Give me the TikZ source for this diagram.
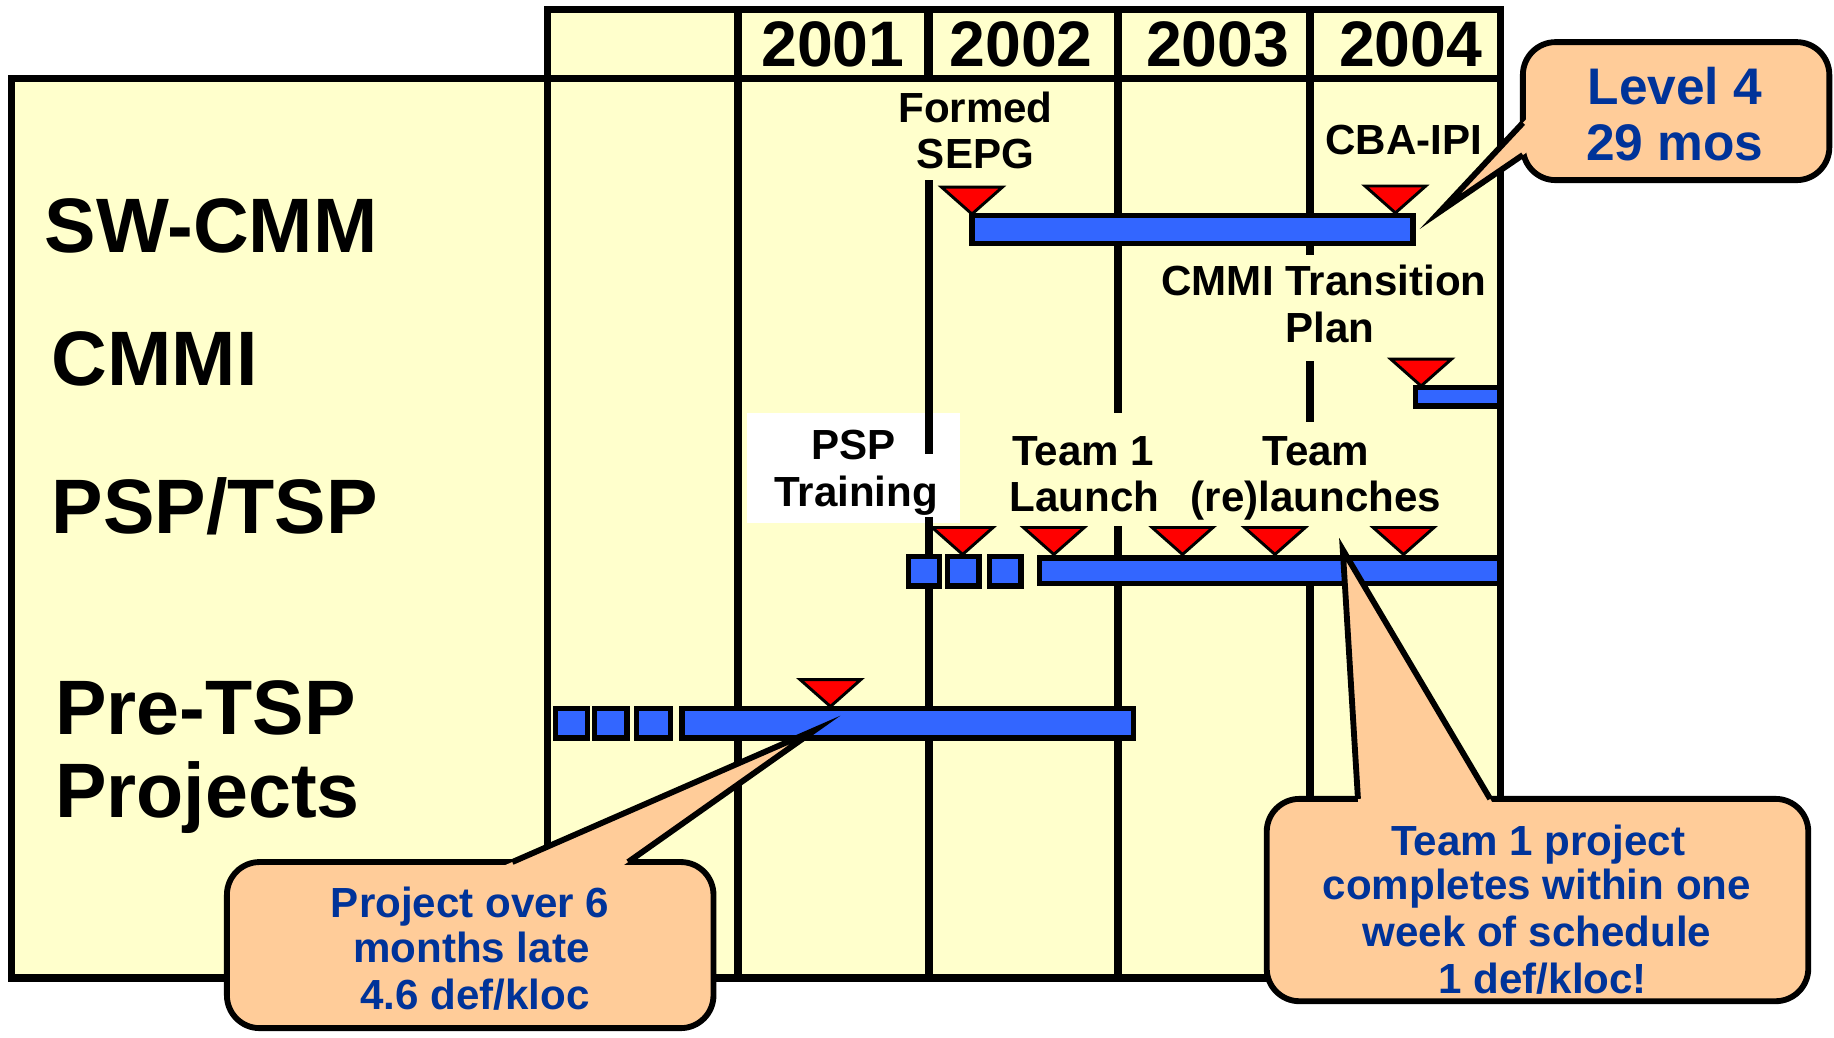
\documentclass[tikz,border=0pt]{standalone}
\usepackage{fontspec}
\setmainfont{Liberation Sans}
\definecolor{bgyellow}{HTML}{FFFFCC}
\definecolor{barblue}{HTML}{3366FF}
\definecolor{mkred}{HTML}{FF0000}
\definecolor{peach}{HTML}{FFCC99}
\definecolor{calblue}{HTML}{003399}
\newcommand\fRow{\fontsize{66}{70}\selectfont\bfseries}
\newcommand\fYear{\fontsize{55}{60}\selectfont\bfseries}
\newcommand\fLab{\fontsize{36}{40}\selectfont\bfseries}
\newcommand\fLvl{\fontsize{44}{48}\selectfont\bfseries}
\newcommand\fCall{\fontsize{36}{40}\selectfont\bfseries}
\tikzset{
  gridline/.style={line width=6.5pt},
  barbox/.style={draw=black,fill=barblue,line width=4.5pt},
  tri/.pic={\filldraw[fill=mkred,draw=black,line width=2.5pt,line join=miter] (-26,-23)--(26,-23)--(0,0)--cycle;},
  rowlbl/.style={anchor=base west,inner sep=0pt,font=\fRow},
  yearlbl/.style={anchor=base,inner sep=0pt,font=\fYear},
  lbl/.style={anchor=base,inner sep=0pt,font=\fLab},
  lvllbl/.style={anchor=base,inner sep=0pt,font=\fLvl,text=calblue},
  calllbl/.style={anchor=base,inner sep=0pt,font=\fCall,text=calblue},
  callbox/.style={draw=black,fill=peach,line width=5pt,rounded corners=28pt},
  tailedge/.style={draw=black,line width=5pt,line join=miter},
}
\begin{document}
\begin{tikzpicture}[x=1pt,y=-1pt]
\fill[white] (0,0) rectangle (1568,887);
\useasboundingbox (0,0) rectangle (1568,887);
% backgrounds
\fill[bgyellow] (10,67) rectangle (1283,836);
\fill[bgyellow] (468,8) rectangle (1283,67);
\node[fill=white,minimum width=182pt,minimum height=94pt,inner sep=0pt] (pspbox) at (730,400) {};
% frame and grid
\draw[gridline] (10,67) rectangle (1283,836);
\draw[gridline] (468,8) rectangle (1283,67);
\draw[gridline] (468,67) -- (468,836);
\draw[gridline] (631,8) -- (631,836);
\draw[gridline,line width=8pt] (794,8) -- (794,67);
\draw[gridline] (794,154) -- (794,388);
\draw[gridline] (794,442) -- (794,836);
\draw[gridline] (956,8) -- (956,353);
\draw[gridline] (956,450) -- (956,836);
\draw[gridline] (1120,8) -- (1120,218);
\draw[gridline] (1120,309) -- (1120,361);
\draw[gridline] (1120,499) -- (1120,836);
% bars
\draw[barbox] (831,184) rectangle (1208,208);
\draw[barbox] (1210,331) rectangle (1282,347);
\draw[barbox] (777,476) rectangle (803,501);
\draw[barbox] (810,476) rectangle (837,501);
\draw[barbox] (846,476) rectangle (873,501);
\draw[barbox] (889,477) rectangle (1282,499);
\draw[barbox] (475,606) rectangle (502,631);
\draw[barbox] (508,606) rectangle (536,631);
\draw[barbox] (544,606) rectangle (573,631);
\draw[barbox] (583,606) rectangle (969,631);
% milestones
\pic at (831,183) {tri};
\pic at (1193,182) {tri};
\pic at (1215,330) {tri};
\pic at (823,474) {tri};
\pic at (901,474) {tri};
\pic at (1011,474) {tri};
\pic at (1090,474) {tri};
\pic at (1200,474) {tri};
\pic at (710,604) {tri};
% row labels
\node[rowlbl] (swcmm) at (38,216) {SW-CMM};
\node[rowlbl] (cmmi) at (44,330) {CMMI};
\node[rowlbl] (psptsp) at (44,456) {PSP/TSP};
\node[rowlbl] (pretsp) at (47,628) {Pre-TSP};
\node[rowlbl] (projects) at (47,699) {Projects};
% years
\node[yearlbl] (y2001) at (712,57) {2001};
\node[yearlbl] (y2002) at (873,57) {2002};
\node[yearlbl] (y2003) at (1041,57) {2003};
\node[yearlbl] (y2004) at (1206,57) {2004};
% event labels
\node[lbl] (formed) at (834,105) {Formed};
\node[lbl] (sepg) at (834,144) {SEPG};
\node[lbl] (cba) at (1200,132) {CBA-IPI};
\node[lbl] (cmmitr) at (1132,253) {CMMI Transition};
\node[lbl] (plan) at (1137,293) {Plan};
\node[lbl] (psp) at (730,393) {PSP};
\node[lbl] (training) at (732,433) {Training};
\node[lbl] (team1) at (926,398) {Team 1};
\node[lbl] (launch) at (927,437) {Launch};
\node[lbl] (team) at (1125,398) {Team};
\node[lbl] (relaunch) at (1125,437) {(re)launches};
% callout: Level 4
\draw[callbox] (1302,36) rectangle (1564,154);
\fill[peach] (1306,100.7) -- (1231,181) -- (1306,129.8) -- cycle;
\draw[tailedge] (1302,105) -- (1231,181) -- (1302,132.5);
\node[lvllbl] (lvl4) at (1432,89) {Level 4};
\node[lvllbl] (mos) at (1432,137) {29 mos};
% callout: project late
\draw[callbox] (194,737) rectangle (610,879);
\fill[peach] (428.8,741) -- (697,624) -- (531.3,741) -- cycle;
\draw[tailedge] (438,737) -- (697,624) -- (537,737);
\node[calllbl] (pc1) at (402,784) {Project over 6};
\node[calllbl] (pc2) at (403,823) {months late};
\node[calllbl] (pc3) at (406,863) {4.6 def/kloc};
% callout: team 1 project
\draw[callbox] (1083,683) rectangle (1546,856);
\fill[peach] (1161.3,688) -- (1148,470) -- (1277,688) -- cycle;
\draw[tailedge] (1161,683) -- (1148,470) -- (1274,683);
\node[calllbl] (tc1) at (1315,731) {Team 1 project};
\node[calllbl] (tc2) at (1314,769) {completes within one};
\node[calllbl] (tc3) at (1314,809) {week of schedule};
\node[calllbl] (tc4) at (1319,849) {1 def/kloc!};
\end{tikzpicture}
\end{document}
